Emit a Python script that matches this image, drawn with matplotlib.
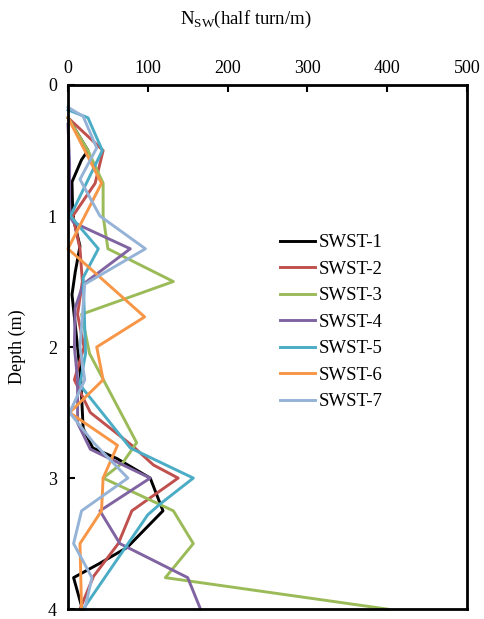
import matplotlib
matplotlib.use('Agg')
import matplotlib.pyplot as plt

plt.rcParams['font.family'] = ['Liberation Serif', 'DejaVu Serif']
plt.rcParams['mathtext.fontset'] = 'custom'
plt.rcParams['mathtext.rm'] = 'Liberation Serif'

# depth (m) and N_sw (half turn/m), one pair of lists per test
d1 = [0.25, 0.5, 0.57, 0.74, 1.0, 1.23, 1.43, 1.6, 2.0, 2.25, 2.62, 2.77, 2.85, 3.0, 3.25, 3.53, 3.65, 3.76, 4.0]
n1 = [0, 25, 17, 5, 6, 15, 9, 5, 12, 16, 19, 31, 61, 103, 119, 74, 40, 7, 18]

d2 = [0.25, 0.5, 0.75, 1.0, 1.25, 1.5, 1.75, 2.0, 2.25, 2.5, 2.75, 2.9, 3.0, 3.25, 3.5, 3.75, 4.0]
n2 = [0, 44, 34, 6, 15, 18, 12, 20, 8, 28, 80, 107, 138, 80, 63, 32, 15]

d3 = [0.25, 0.5, 0.75, 1.0, 1.25, 1.5, 1.75, 2.05, 2.73, 2.88, 3.0, 3.25, 3.5, 3.76, 4.0]
n3 = [0, 25, 44, 44, 50, 132, 17, 27, 86, 69, 44, 132, 157, 122, 400]

d4 = [0.3, 0.6, 1.0, 1.05, 1.25, 1.52, 1.7, 2.0, 2.25, 2.58, 2.78, 3.0, 3.25, 3.5, 3.76, 4.0]
n4 = [0, 2, 2, 7, 78, 19, 9, 8, 12, 12, 28, 103, 40, 65, 150, 166]

d5 = [0.19, 0.25, 0.5, 1.0, 1.25, 1.47, 2.05, 2.28, 2.32, 2.77, 3.0, 3.2, 3.28, 4.0]
n5 = [0, 25, 43, 3, 38, 19, 22, 15, 19, 78, 157, 115, 100, 19]

d6 = [0.25, 0.75, 1.25, 1.77, 2.0, 2.25, 2.5, 2.75, 3.0, 3.25, 3.5, 4.0]
n6 = [0, 42, 0, 96, 36, 44, 2, 62, 44, 42, 15, 17]

d7 = [0.17, 0.24, 0.48, 0.72, 1.0, 1.25, 1.52, 2.0, 2.25, 2.5, 2.73, 3.0, 3.25, 3.5, 3.76, 4.0]
n7 = [0, 19, 36, 15, 40, 97, 21, 15, 21, 2, 32, 75, 17, 7, 30, 21]

labels = ['SWST-1', 'SWST-2', 'SWST-3', 'SWST-4', 'SWST-5', 'SWST-6', 'SWST-7']
colors = ['#000000', '#C0504D', '#9BBB59', '#8064A2', '#4BACC6', '#F79646', '#95B3D7']

fig = plt.figure(figsize=(4.84, 6.19), dpi=100)
ax = fig.add_axes([0.1405, 0.016, 0.8245, 0.8467])

series = [(d1, n1), (d2, n2), (d3, n3), (d4, n4), (d5, n5), (d6, n6), (d7, n7)]
for (d, n), lab, c in zip(series, labels, colors):
    ax.plot(n, d, color=c, lw=2.1, label=lab, clip_on=False)

ax.set_xlim(0, 500)
ax.set_ylim(4, 0)
ax.set_xticks([0, 100, 200, 300, 400, 500])
ax.set_yticks([0, 1, 2, 3, 4])
ax.xaxis.tick_top()
ax.xaxis.set_label_position('top')
ax.tick_params(axis='both', direction='in', length=5, width=1.5, labelsize=13, pad=6)
ax.tick_params(axis='y', pad=8)
for s in ax.spines.values():
    s.set_linewidth(2)

ax.set_xlabel(r'N$_{\mathrm{SW}}$(half turn/m)', fontsize=13.5)
ax.xaxis.set_label_coords(0.446, 1.117)
ax.set_ylabel('Depth (m)', fontsize=13, labelpad=16)

ax.legend(loc='upper left', bbox_to_anchor=(0.531, 0.715), frameon=False, fontsize=13.5,
          handlelength=1.87, labelspacing=0.5, handletextpad=0.2, borderaxespad=0, borderpad=0)

plt.savefig('out.png', dpi=100)
